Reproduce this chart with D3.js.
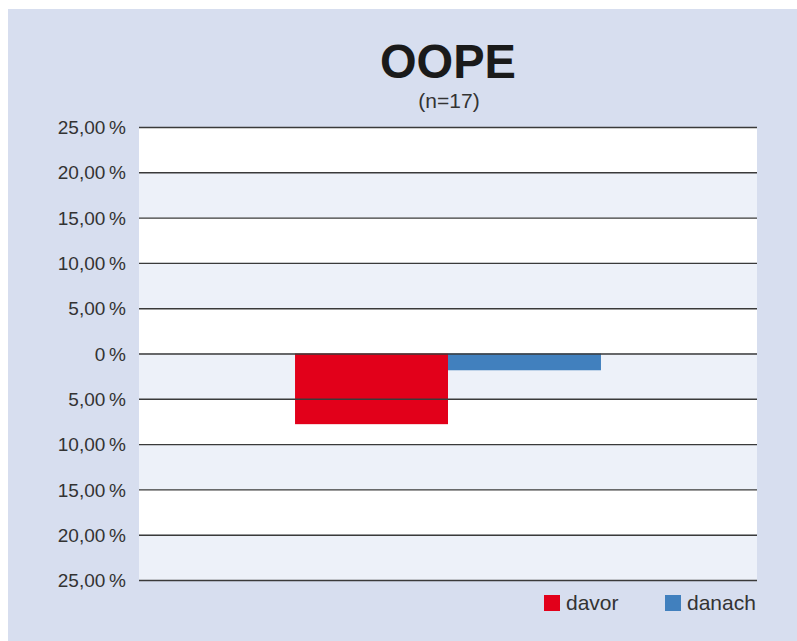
<!DOCTYPE html>
<html><head><meta charset="utf-8">
<script src="https://cdn.jsdelivr.net/npm/d3@7"></script>
<style>body{margin:0;background:#fff}svg{display:block}</style>
</head><body>
<script>
const categories = ["OOPE"];
const seriesNames = ["davor", "danach"];
const davor = [-7.8];
const danach = [-1.85];
const tickValues = [25, 20, 15, 10, 5, 0, -5, -10, -15, -20, -25];
const tickLabels = ["25,00\u2009%","20,00\u2009%","15,00\u2009%","10,00\u2009%","5,00\u2009%","0\u2009%","5,00\u2009%","10,00\u2009%","15,00\u2009%","20,00\u2009%","25,00\u2009%"];
const colors = ["#e2001a", "#4180be"];

const W = 797, H = 641;
const svg = d3.select("body").append("svg").attr("width", W).attr("height", H);
svg.append("rect").attr("x", 8).attr("y", 9).attr("width", W - 8).attr("height", H - 9).attr("fill", "#d7deef");

const m = {left: 139, right: 757, top: 127, bottom: 580};
const y = d3.scaleLinear().domain([-25, 25]).range([m.bottom, m.top]);
const x0 = d3.scaleBand().domain(categories).range([m.left, m.right]).paddingInner(0).paddingOuter(0.51);
const x1 = d3.scaleBand().domain(seriesNames).range([0, x0.bandwidth()]);

// bands
for (let i = 0; i < tickValues.length - 1; i++) {
  svg.append("rect").attr("x", m.left).attr("width", m.right - m.left)
    .attr("y", y(tickValues[i])).attr("height", y(tickValues[i + 1]) - y(tickValues[i]))
    .attr("fill", i % 2 === 0 ? "#ffffff" : "#edf1f9");
}

// bars
const data = categories.map((c, i) => ({cat: c, values: [davor[i], danach[i]]}));
const g = svg.append("g");
data.forEach(d => {
  d.values.forEach((v, j) => {
    g.append("rect")
      .attr("x", x0(d.cat) + x1(seriesNames[j]))
      .attr("width", x1.bandwidth())
      .attr("y", y(Math.max(0, v)))
      .attr("height", Math.abs(y(v) - y(0)))
      .attr("fill", colors[j]);
  });
});

// grid lines via axis
const axis = d3.axisLeft(y).tickValues(tickValues).tickSize(-(m.right - m.left)).tickFormat((d, i) => tickLabels[i]).tickPadding(13);
const ag = svg.append("g").attr("transform", `translate(${m.left},0)`).call(axis);
ag.select(".domain").remove();
ag.selectAll(".tick line").attr("stroke", "#3a3a3a").attr("stroke-width", 1.4);
ag.selectAll(".tick text").attr("font-family", "'Liberation Sans', Arial, sans-serif")
  .attr("font-size", 19).attr("fill", "#333").attr("dy", "0.35em").attr("x", -13);

// title
svg.append("text").attr("x", 448).attr("y", 78).attr("text-anchor", "middle")
  .attr("font-family", "'Liberation Sans', Arial, sans-serif").attr("font-weight", "bold")
  .attr("font-size", 48).attr("fill", "#1a1a1a").attr("textLength", 136).attr("lengthAdjust", "spacingAndGlyphs").text("OOPE");
svg.append("text").attr("x", 449).attr("y", 108).attr("text-anchor", "middle")
  .attr("font-family", "'Liberation Sans', Arial, sans-serif")
  .attr("font-size", 21).attr("fill", "#333").text("(n=17)");

// legend
const legX = [544, 665];
seriesNames.forEach((s, j) => {
  svg.append("rect").attr("x", legX[j]).attr("y", 595).attr("width", 16).attr("height", 16).attr("fill", colors[j]);
  svg.append("text").attr("x", legX[j] + 22).attr("y", 610).attr("font-family", "'Liberation Sans', Arial, sans-serif")
    .attr("font-size", 21).attr("fill", "#333").text(s);
});
</script>
</body></html>
